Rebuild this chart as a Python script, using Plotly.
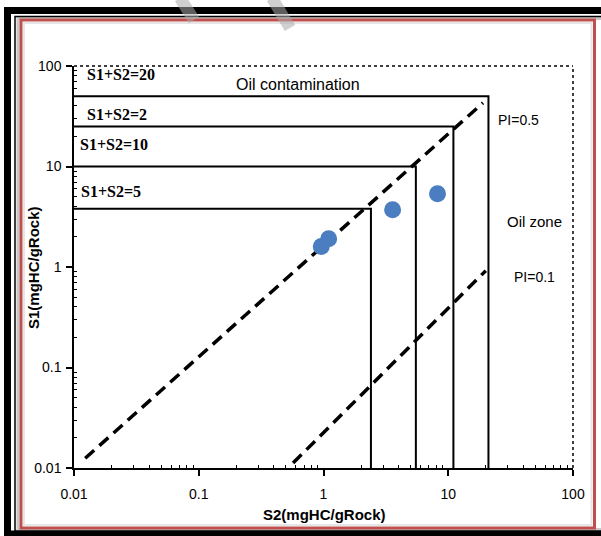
import plotly.graph_objects as go

# ---------------- data ----------------
tick_vals = [0.01, 0.1, 1, 10, 100]
tick_text = ["0.01", "0.1", "1", "10", "100"]

# S1+S2 boxes (corner of each box: S2, S1)
box_s2 = [2.4, 5.5, 11, 21]
box_s1 = [3.8, 10, 25, 50]
box_labels = ["S1+S2=5", "S1+S2=10", "S1+S2=2", "S1+S2=20"]

# Production-index dashed lines (end points)
pi05_s2 = [0.0123, 19]
pi05_s1 = [0.0125, 43]
pi01_s2 = [0.57, 20]
pi01_s1 = [0.0112, 0.92]

# Samples
sample_s2 = [0.96, 1.10, 3.58, 8.2]
sample_s1 = [1.60, 1.91, 3.72, 5.36]

# ---------------- geometry helpers (pixel -> paper) ----------------
W, H = 601, 536
L, R, T, B = 74, 573, 66, 468


def px(x):
    return (x - L) / (R - L)


def py(y):
    return (B - y) / (B - T)


fig = go.Figure()

# box lines
for s2, s1 in zip(box_s2, box_s1):
    fig.add_trace(go.Scatter(
        x=[tick_vals[0], s2, s2], y=[s1, s1, tick_vals[0]],
        mode="lines", line=dict(color="black", width=2),
        showlegend=False, hoverinfo="skip", cliponaxis=False))

# dashed PI lines
for xs, ys in [(pi05_s2, pi05_s1), (pi01_s2, pi01_s1)]:
    fig.add_trace(go.Scatter(
        x=xs, y=ys, mode="lines",
        line=dict(color="black", width=3.5, dash="12px,7px"),
        showlegend=False, hoverinfo="skip"))

# samples
fig.add_trace(go.Scatter(
    x=sample_s2, y=sample_s1, mode="markers",
    marker=dict(color="#4a7ec0", size=17, line=dict(width=0)),
    showlegend=False, hoverinfo="skip"))

minor_vals = [m * 10 ** e for e in range(-2, 2) for m in range(2, 10)]

axis_common = dict(
    type="log", range=[-2, 2], tickmode="array", tickvals=tick_vals,
    ticktext=tick_text, ticks="outside", ticklen=6, tickwidth=1.5,
    tickcolor="black", showline=True, linewidth=1.5, linecolor="black",
    showgrid=False, zeroline=False, mirror=False,
    tickfont=dict(family="Liberation Sans, Arial", size=14, color="black"),
    minor=dict(tickmode="array", tickvals=minor_vals, ticks="inside",
               ticklen=3, tickwidth=1, tickcolor="black", showgrid=False),
)

fig.update_xaxes(**axis_common, ticklabelstandoff=6)
fig.update_yaxes(**axis_common, ticklabelstandoff=2)

shapes = []
# dotted top & right border of plot
shapes.append(dict(type="line", xref="paper", yref="paper", x0=0, y0=1, x1=1, y1=1,
                   line=dict(color="black", width=1.5, dash="dot")))
shapes.append(dict(type="line", xref="paper", yref="paper", x0=1, y0=0, x1=1, y1=1,
                   line=dict(color="black", width=1.5, dash="dot")))

# picture frame
def rect(x0, y0, x1, y1, color, width):
    return dict(type="rect", xref="paper", yref="paper", layer="above",
                x0=px(x0), y0=py(y0), x1=px(x1), y1=py(y1),
                line=dict(color=color, width=width), fillcolor="rgba(0,0,0,0)")

shapes.append(rect(7.5, 10.5, 640, 534, "black", 7))
shapes.append(rect(18, 18.5, 640, 529.5, "#c8c8c8", 3))
shapes.append(rect(15, 16.5, 640, 531, "black", 1.5))
shapes.append(rect(24, 23, 591.5, 525, "#e6e6e6", 2))
shapes.append(rect(21, 20, 594.5, 528, "#c0504d", 3))

# faint watermark strokes at top
for (x0, y0, x1, y1) in [(180, -2, 194, 20), (272, -2, 290, 28)]:
    shapes.append(dict(type="line", xref="paper", yref="paper", layer="above",
                       x0=px(x0), y0=py(y0), x1=px(x1), y1=py(y1),
                       line=dict(color="rgba(170,170,170,0.55)", width=12)))

annotations = []


def ann(text, x, y, size, family="Liberation Sans, Arial", bold=False,
        xanchor="left", angle=0):
    t = f"<b>{text}</b>" if bold else text
    annotations.append(dict(text=t, x=px(x), y=py(y), xref="paper", yref="paper",
                            showarrow=False, xanchor=xanchor, yanchor="middle",
                            textangle=angle,
                            font=dict(family=family, size=size, color="black")))


serif = "Liberation Serif, Times New Roman"
label_pos = [(79, 191), (78, 144), (85, 115), (85, 75)]
for lab, (x, y) in zip(box_labels, label_pos):
    ann(lab, x, y, 16, family=serif, bold=True)

ann("Oil contamination", 234, 84, 16)
ann("PI=0.5", 496, 120, 14)
ann("Oil zone", 505, 221, 15)
ann("PI=0.1", 512, 277, 14)

# axis titles
ann("S2(mgHC/gRock)", 324, 514, 15, bold=True, xanchor="center")
ann("S1(mgHC/gRock)", 33, 268, 15, bold=True, xanchor="center", angle=-90)

fig.update_layout(
    width=W, height=H, autosize=False,
    margin=dict(l=L, r=W - R, t=T, b=H - B, pad=0),
    paper_bgcolor="white", plot_bgcolor="white",
    shapes=shapes, annotations=annotations,
)

fig.write_html("out.html", config={"displayModeBar": False},
               post_script="document.body.style.margin='0';document.body.style.overflow='hidden';")
